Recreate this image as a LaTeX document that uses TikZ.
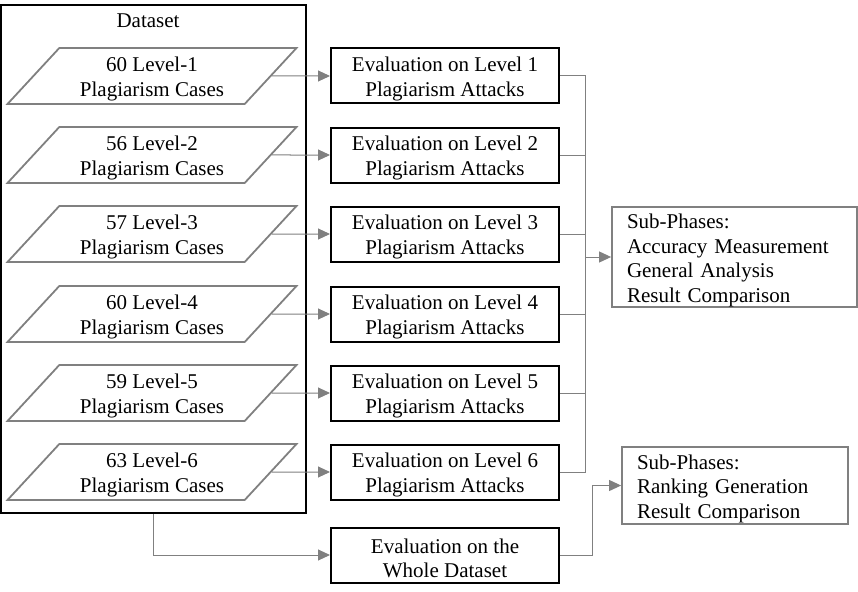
\documentclass[tikz,border=0pt]{standalone}
\usepackage{fontspec}
\setmainfont{Liberation Serif}
\usetikzlibrary{shapes.geometric,arrows.meta,positioning}

\definecolor{linegray}{RGB}{128,128,128}
\newcommand{\tallstrut}{\rule{0pt}{21pt}}

\begin{document}
\begin{tikzpicture}[x=1pt,y=-1pt,
    font=\fontsize{21}{24.5}\selectfont,
    evalbox/.style={draw,line width=2pt,minimum width=228pt,minimum height=55pt,align=center,inner sep=0pt},
    casebox/.style={trapezium,trapezium left angle=44,trapezium right angle=136,trapezium stretches body,
        draw=linegray,line width=1.8pt,minimum width=289pt,minimum height=56pt,inner sep=0pt,align=center},
    phasebox/.style={draw=linegray,line width=1.8pt,align=left,inner xsep=15pt,inner ysep=0pt},
    link/.style={draw=linegray,line width=1pt,-{Triangle[length=12pt,width=11pt]}},
    joint/.style={draw=linegray,line width=1pt}]
    \useasboundingbox (0,0) rectangle (858,591);

    % Dataset frame
    \node[draw,line width=2pt,minimum width=305pt,minimum height=508pt,inner sep=0pt] (dataset) at (153.5,259) {};
    \node (dstitle) at (148,21) {Dataset};

    % Cases and evaluation per level
    \foreach \i/\n/\y in {1/60/76,2/56/155,3/57/234,4/60/314,5/59/393,6/63/472} {
        \node[casebox] (case\i) at (152,\y) {\tallstrut\n{} Level-\i\\Plagiarism Cases};
        \node[evalbox] (eval\i) at (445,\y) {\tallstrut Evaluation on Level \i\\Plagiarism Attacks};
        \draw[link] (case\i) -- (eval\i);
    }

    % Whole dataset
    \node[evalbox] (evalall) at (445,555) {\tallstrut Evaluation on the\\Whole Dataset};
    \draw[link] (dataset.south) |- (evalall);

    % Sub-phases
    \node[phasebox,minimum width=245pt,minimum height=100pt,text width=215pt] (phasea) at (734.5,257)
        {\tallstrut Sub-Phases:\\Accuracy Measurement\\General Analysis\\Result Comparison};
    \node[phasebox,minimum width=226pt,minimum height=77pt,text width=196pt] (phaseb) at (735,485.5)
        {\tallstrut Sub-Phases:\\Ranking Generation\\Result Comparison};

    \coordinate (merge) at (585,257);
    \foreach \i in {1,...,6} \draw[joint] (eval\i.east) -| (merge);
    \draw[link] (merge) -- (phasea);
    \draw[link] (evalall.east) -- ++(32,0) |- (phaseb);
\end{tikzpicture}
\end{document}
